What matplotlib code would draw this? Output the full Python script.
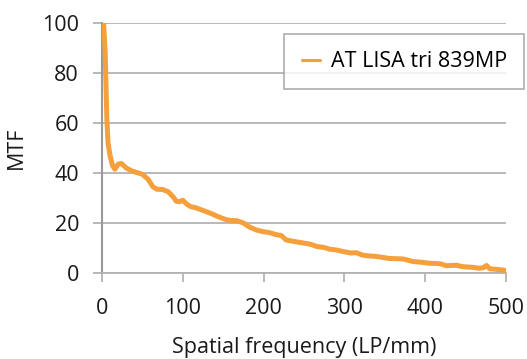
import matplotlib
matplotlib.use("Agg")
import matplotlib.pyplot as plt

freq = [0, 2, 4, 5, 6, 7.5, 10, 13, 16, 20, 24, 30, 37, 43, 50, 57, 63, 68, 75, 82, 88, 92, 96, 100, 105, 110, 115, 121, 127, 135, 144, 154, 160, 167, 175, 183, 191, 200, 208, 216, 222, 228, 238, 249, 258, 266, 275, 282, 290, 300, 308, 315, 322, 328, 340, 356, 365, 373, 380, 385, 395, 405, 414, 420, 426, 432, 439, 445, 451, 458, 467, 472, 476, 480, 490, 500]
mtf = [100, 100, 88, 75, 62, 52, 47, 43, 41.5, 43.5, 43.8, 42, 40.8, 40.2, 39.5, 37.5, 34.5, 33.5, 33.4, 32.5, 30.5, 28.7, 28.5, 29.1, 27.5, 26.5, 26.2, 25.5, 24.8, 23.8, 22.5, 21.3, 21, 20.9, 20, 18.3, 17.2, 16.5, 16.1, 15.3, 15, 13.2, 12.6, 12, 11.5, 10.6, 10.2, 9.5, 9.2, 8.5, 8, 8.1, 7.2, 6.9, 6.6, 5.8, 5.7, 5.6, 5.0, 4.6, 4.3, 3.9, 3.8, 3.6, 2.9, 3.0, 3.1, 2.6, 2.4, 2.3, 1.9, 2.1, 3.0, 1.7, 1.4, 1.0]

series_label = "AT LISA tri 839MP"
x_ticks = [0, 100, 200, 300, 400, 500]
y_ticks = [0, 20, 40, 60, 80, 100]

plt.rcParams['font.family'] = ['Open Sans', 'DejaVu Sans']

fig = plt.figure(figsize=(5.27, 3.59), dpi=100)
ax = fig.add_axes([0.1935, 0.2396, 0.7665, 0.6964])

grid_c = "#B3B3B3"
txt_c = "#1a1a1a"
fs = 15.5
ax.plot(freq, mtf, color="#F5A03C", lw=3.6, solid_joinstyle="round", solid_capstyle="round",
        label=series_label, clip_on=True, zorder=3)

ax.set_xlim(0, 500)
ax.set_ylim(0, 100)
ax.set_xticks(x_ticks)
ax.set_yticks(y_ticks)
ax.yaxis.grid(True, color=grid_c, lw=1.3)
ax.set_axisbelow(True)
for s in ["top", "right"]:
    ax.spines[s].set_visible(False)
ax.spines["left"].set_color("#999999")
ax.spines["left"].set_linewidth(1.5)
ax.spines["bottom"].set_color(grid_c)
ax.spines["bottom"].set_linewidth(1.3)
ax.tick_params(axis="x", direction="out", length=6.5, width=1.3, color=grid_c,
               labelsize=fs, pad=11.5, labelcolor=txt_c)
ax.tick_params(axis="y", direction="out", length=6.5, width=1.3, color=grid_c,
               labelsize=fs, pad=10, labelcolor=txt_c)

ax.set_xlabel("Spatial frequency (LP/mm)", fontsize=fs, labelpad=13, color=txt_c)
ax.set_ylabel("MTF", fontsize=fs, labelpad=11, color=txt_c)

leg = ax.legend(loc="upper right", bbox_to_anchor=(524/527, 1 - 34/359),
                bbox_transform=fig.transFigure, fontsize=fs, frameon=True,
                fancybox=False, handlelength=0.85, borderpad=0.8, handletextpad=0.5,
                borderaxespad=0)
leg.get_frame().set_edgecolor("#999999")
leg.get_frame().set_linewidth(1.2)
for h in leg.get_lines():
    h.set_linewidth(2.2)

fig.savefig("out.png", dpi=100)
